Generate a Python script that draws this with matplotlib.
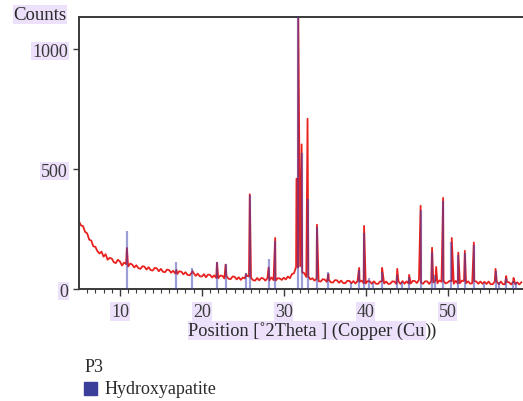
import matplotlib.pyplot as plt
import numpy as np

plt.rcParams.update({
    "font.family": ["Liberation Serif", "DejaVu Serif"],
    "font.size": 13,
    "axes.edgecolor": "#3a3a3a",
    "xtick.color": "#3a3a3a",
    "ytick.color": "#3a3a3a",
    "text.color": "#2a2a2a",
})

# background of measured pattern, read every 0.25 deg from 5 to 59
bg_start, bg_step = 5.0, 0.25
background = [
    282, 265, 262, 238,   # 5
    232, 206, 202, 178,   # 6
    176, 158, 148, 156,   # 7
    135, 145, 122, 130,   # 8
    127, 112, 108, 122,   # 9
    115, 98, 110, 104,    # 10
    94, 106, 102, 90,     # 11
    99, 87, 84, 95,       # 12
    93, 81, 91, 79,       # 13
    77, 88, 86, 74,       # 14
    84, 72, 70, 81,       # 15
    79, 68, 76, 65,       # 16
    63, 74, 72, 61,       # 17
    70, 59, 57, 67,       # 18
    66, 55, 64, 53,       # 19
    52, 62, 49, 60,       # 20
    59, 48, 57, 46,       # 21
    45, 56, 55, 44,       # 22
    54, 43, 41, 52,       # 23
    51, 40, 49, 38,       # 24
    48, 44, 55, 52,       # 25
    47, 37, 35, 46,       # 26
    36, 46, 44, 35,       # 27
    45, 36, 48, 37,       # 28
    35, 45, 44, 38,       # 29
    47, 40, 52, 45,       # 30
    62, 66, 92, 90,       # 31
    95, 70, 66, 50,       # 32
    52, 40, 45, 35,       # 33
    43, 33, 31, 41,       # 34
    39, 30, 38, 28,       # 35
    27, 37, 36, 26,       # 36
    35, 25, 24, 34,       # 37
    34, 24, 33, 23,       # 38
    33, 30, 35, 24,       # 39
    23, 33, 32, 22,       # 40
    32, 22, 21, 31,       # 41
    33, 23, 31, 21,       # 42
    22, 32, 31, 21,       # 43
    32, 21, 33, 22,       # 44
    32, 22, 23, 34,       # 45
    33, 25, 38, 26,       # 46
    22, 32, 32, 21,       # 47
    33, 27, 34, 24,       # 48
    36, 30, 34, 23,       # 49
    27, 34, 33, 22,       # 50
    34, 23, 24, 35,       # 51
    33, 24, 32, 22,       # 52
    24, 33, 31, 22,       # 53
    31, 22, 30, 21,       # 54
    31, 20, 20, 31,       # 55
    30, 20, 31, 20,       # 56
    20, 29, 28, 19,       # 57
    29, 20, 28, 19,       # 58
    28,                   # 59
]

# measured peak apexes (position, counts)
peak_pos = [10.85, 16.9, 18.85, 21.85, 22.9, 25.4, 25.85, 28.15, 28.95,
            31.55, 31.77, 32.18, 32.9, 34.05, 35.45, 39.2, 39.8, 42.0,
            43.85, 45.3, 46.7, 48.1, 48.6, 49.45, 50.5, 51.3, 52.1, 53.2,
            55.85, 57.15, 58.05]
peak_cts = [171, 80, 75, 110, 102, 62, 395, 90, 213,
            460, 1140, 603, 710, 268, 62, 88, 263, 88,
            84, 59, 347, 172, 92, 380, 213, 152, 159, 194,
            84, 54, 46]

# reference pattern: Hydroxyapatite sticks
hap_pos = [10.85, 16.85, 18.8, 21.8, 22.9, 25.35, 25.85, 28.15, 28.9,
           31.77, 32.2, 32.9, 34.05, 35.45, 38.25, 39.2, 39.8, 40.45,
           40.85, 42.0, 43.85, 44.45, 45.3, 46.7, 48.1, 48.5, 49.4,
           50.45, 51.3, 52.1, 53.2, 54.4, 55.85, 56.3, 57.15, 58.0, 58.4]
hap_cts = [242, 112, 88, 112, 104, 65, 393, 127, 200,
           1134, 569, 375, 260, 72, 25, 80, 234, 45,
           25, 71, 59, 29, 52, 330, 156, 60, 365,
           198, 142, 152, 184, 25, 77, 30, 45, 35, 30]

bg_x = bg_start + bg_step * np.arange(len(background))
x = np.concatenate([bg_x, peak_pos])
y = np.concatenate([background, peak_cts])
order = np.argsort(x, kind="stable")

fig = plt.figure(figsize=(5.23, 4.02), dpi=100)
ax = fig.add_axes([0.151, 0.2786, 0.849, 0.677])

ax.plot(x[order], y[order], color="#e8221f", lw=1.3, zorder=2)
ax.vlines(hap_pos, 0, hap_cts, color="#3a3fb0", alpha=0.5, lw=1.6, zorder=3)

ax.set_xlim(5, 59.2)
ax.set_ylim(0, 1135)
ax.spines["right"].set_visible(False)
for s in ["left", "top", "bottom"]:
    ax.spines[s].set_linewidth(1.4)

hl = dict(facecolor="#ece0fb", edgecolor="none", pad=0.5)
ax.set_xticks([10, 20, 30, 40, 50])
ax.set_xticks(np.arange(6, 59, 1), minor=True)
ax.set_yticks([0, 500, 1000])
ax.tick_params(axis="x", which="major", length=5, width=1, pad=5, labelsize=13)
ax.tick_params(axis="x", which="minor", length=3, width=0.8)
ax.tick_params(axis="y", length=4, width=1, pad=4, labelsize=13)
for lab in ax.get_xticklabels() + ax.get_yticklabels():
    lab.set_bbox(hl)

fig.text(0.026, 0.962, "Counts", fontsize=13.5, ha="left", va="center", bbox=hl)
xl = fig.text(0.36, 0.176, "Position [˚2Theta ] (Copper (Cu", fontsize=13.2,
              ha="left", va="center", bbox=hl)
ax.annotate("))", xy=(1, 0.5), xycoords=xl, fontsize=13.2,
            ha="left", va="center", annotation_clip=False)

fig.text(0.162, 0.085, "P3", fontsize=13, ha="left", va="center")
fig.patches.append(plt.Rectangle((0.161, 0.016), 0.025, 0.032,
                                 transform=fig.transFigure, color="#3b3f9a"))
fig.text(0.2, 0.032, "Hydroxyapatite", fontsize=13, ha="left", va="center")

fig.savefig("out.png", dpi=100)
